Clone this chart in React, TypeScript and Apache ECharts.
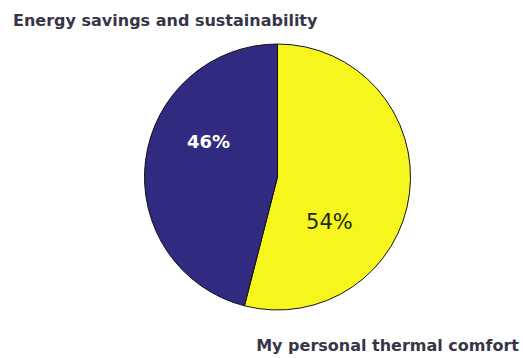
import React, { useEffect, useRef } from "react";
import * as echarts from "echarts";

const categories = ["My personal thermal comfort", "Energy savings and sustainability"];
const values = [54, 46];
const colors = ["#f6f61e", "#302a80"];
const labelColors = ["#1a2a10", "#ffffff"];
const labelOffsets = [[-17, 36], [0, -27]];
const labelSizes = [21, 18];
const labelWeights = ["normal", "bold"];

export default function App() {
  const ref = useRef<HTMLDivElement>(null);
  useEffect(() => {
    const chart = echarts.init(ref.current!, undefined, { renderer: "svg" });
    chart.setOption({
      animation: false,
      backgroundColor: "#ffffff",
      graphic: [
        {
          type: "text",
          x: 13,
          y: 20,
          style: {
            text: categories[1],
            font: "bold 16px 'DejaVu Sans'",
            fill: "#363648",
            verticalAlign: "middle",
          },
        },
        {
          type: "text",
          x: 519,
          y: 345,
          style: {
            text: categories[0],
            font: "bold 16px 'DejaVu Sans'",
            fill: "#363648",
            align: "right",
            verticalAlign: "middle",
          },
        },
      ],
      series: [
        {
          type: "pie",
          center: [277.5, 177],
          radius: 133,
          startAngle: 90,
          clockwise: true,
          itemStyle: { borderColor: "#111", borderWidth: 1 },
          label: {
            position: "inside",
            formatter: "{d}%",
            fontFamily: "DejaVu Sans",
          },
          labelLine: { show: false },
          emphasis: { disabled: true },
          data: categories.map((c, i) => ({
            name: c,
            value: values[i],
            itemStyle: { color: colors[i] },
            label: {
              color: labelColors[i],
              offset: labelOffsets[i],
              fontWeight: labelWeights[i],
              fontSize: labelSizes[i],
            },
          })),
        },
      ],
    });
    return () => chart.dispose();
  }, []);
  return (
    <div
      ref={ref}
      style={{ position: "absolute", left: 0, top: 0, width: 523, height: 358 }}
    />
  );
}
